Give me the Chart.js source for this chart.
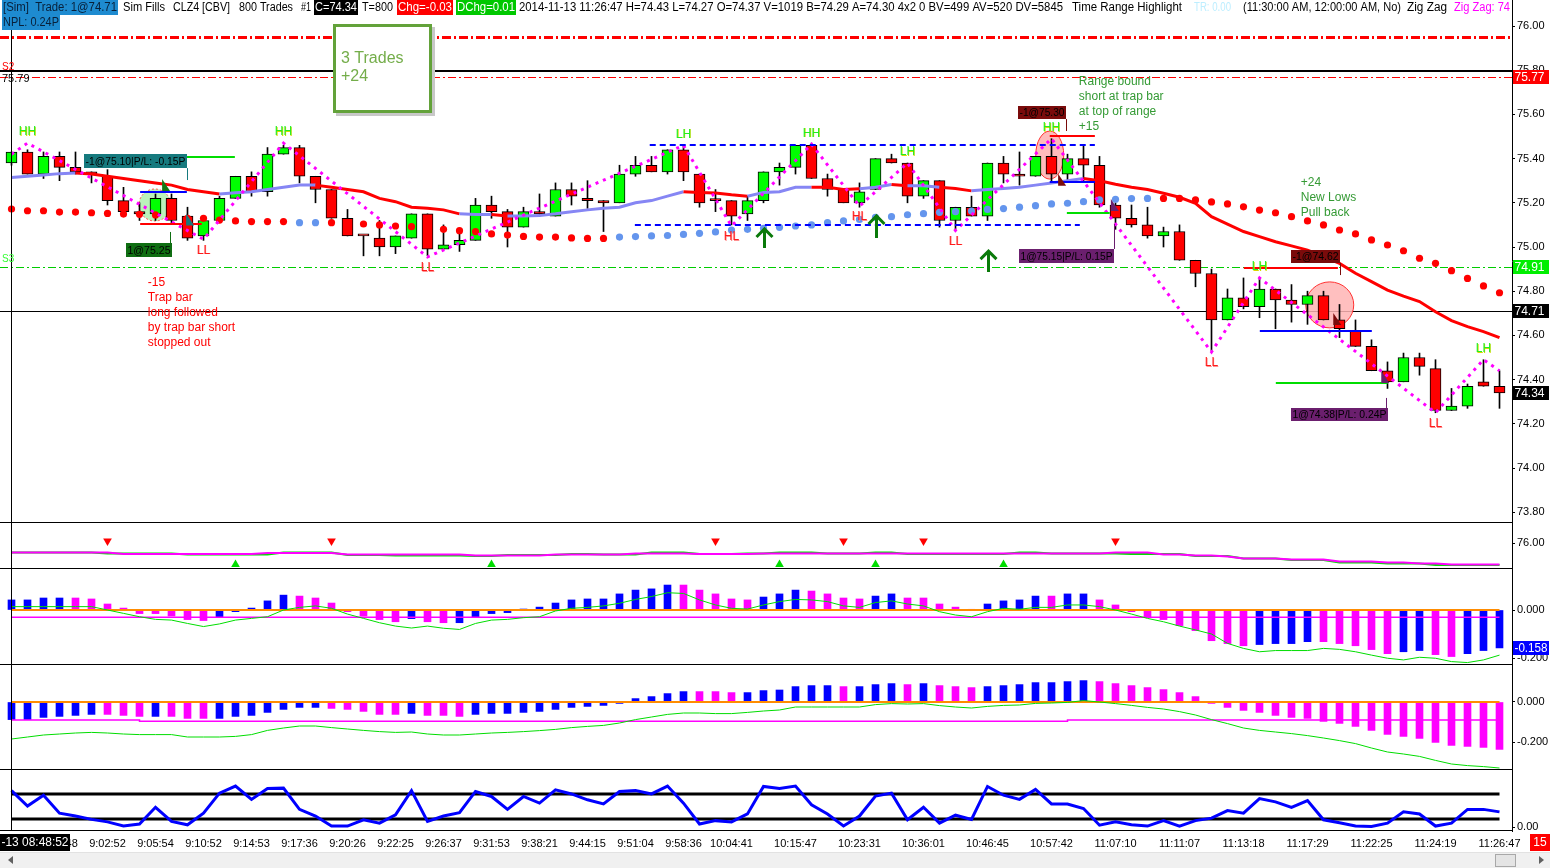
<!DOCTYPE html>
<html><head><meta charset="utf-8"><title>CLZ4 chart</title>
<script src="https://cdn.jsdelivr.net/npm/chart.js@4.4.1/dist/chart.umd.min.js"></script>
<style>
html,body{margin:0;padding:0;background:#fff;overflow:hidden}
body{width:1550px;height:868px;position:relative}
.pane{position:absolute;left:0;width:1550px}
canvas{display:block}
#scroll{position:absolute;left:0;top:852px;width:1550px;height:16px;background:#f0f0f0;border-top:1px solid #e2e2e2;box-sizing:border-box}
#thumb{position:absolute;left:1495px;top:1px;width:21px;height:13px;background:#e4e4e4;border:1px solid #a8a8a8;box-sizing:border-box}
.arr{position:absolute;top:3px;width:0;height:0;border-top:4px solid transparent;border-bottom:4px solid transparent}
</style></head><body>
<div class="pane" style="top:0;height:522px"><canvas id="c0"></canvas></div>
<div class="pane" style="top:522px;height:46px"><canvas id="c1"></canvas></div>
<div class="pane" style="top:568px;height:96px"><canvas id="c2"></canvas></div>
<div class="pane" style="top:664px;height:105px"><canvas id="c3"></canvas></div>
<div class="pane" style="top:769px;height:83px"><canvas id="c4"></canvas></div>
<div id="scroll"><div class="arr" style="left:8px;border-right:5px solid #606060"></div><div id="thumb"></div><div class="arr" style="left:1539px;border-left:5px solid #606060"></div></div>
<script>
// ================= DATA =================
const timeTickBars = [3,6,9,12,15,18,21,24,27,30,33,36,39,42,45,49,53,57,61,65,69,73,77,81,85,89,93];
const timeTickLabels = ['8:59:48','9:02:52','9:05:54','9:10:52','9:14:53','9:17:36','9:20:26','9:22:25','9:26:37','9:31:53','9:38:21','9:44:15','9:51:04','9:58:36','10:04:41','10:15:47','10:23:31','10:36:01','10:46:45','10:57:42','11:07:10','11:11:07','11:13:18','11:17:29','11:22:25','11:24:19','11:26:47'];
const firstBarLabel = '-13 08:48:52';

const openP = [75.38,75.43,75.33,75.41,75.36,75.34,75.32,75.21,75.16,75.15,
 75.22,75.14,75.05,75.12,75.22,75.32,75.25,75.42,75.45,75.32,
 75.26,75.13,75.05,75.04,75.00,75.04,75.15,74.99,75.01,75.03,
 75.19,75.16,75.09,75.16,75.14,75.26,75.22,75.21,75.20,75.33,
 75.37,75.34,75.44,75.33,75.21,75.21,75.15,75.21,75.34,75.36,
 75.46,75.31,75.26,75.20,75.26,75.40,75.38,75.23,75.30,75.12,
 75.18,75.14,75.38,75.33,75.32,75.41,75.33,75.40,75.37,75.19,
 75.13,75.10,75.05,75.07,74.94,74.88,74.67,74.77,74.73,74.81,
 74.76,74.74,74.78,74.67,74.62,74.55,74.44,74.39,74.50,74.45,
 74.26,74.28,74.39,74.37];
const highP = [75.43,75.44,75.43,75.43,75.43,75.34,75.35,75.27,75.20,75.24,
 75.24,75.18,75.14,75.23,75.32,75.34,75.45,75.46,75.46,75.32,
 75.26,75.17,75.05,75.12,75.05,75.15,75.15,75.10,75.08,75.22,
 75.23,75.17,75.18,75.24,75.29,75.29,75.30,75.21,75.37,75.41,
 75.41,75.44,75.46,75.33,75.26,75.21,75.23,75.34,75.38,75.46,
 75.47,75.33,75.26,75.29,75.40,75.42,75.38,75.30,75.30,75.18,
 75.23,75.38,75.41,75.43,75.41,75.49,75.42,75.46,75.41,75.20,
 75.19,75.18,75.09,75.10,74.94,74.90,74.81,74.86,74.86,74.81,
 74.83,74.80,74.80,74.74,74.67,74.58,74.48,74.52,74.52,74.49,
 74.36,74.38,74.49,74.44];
const lowP = [75.37,75.33,75.31,75.30,75.33,75.29,75.19,75.14,75.12,75.12,
 75.11,75.03,75.03,75.12,75.22,75.23,75.23,75.42,75.29,75.20,
 75.13,75.05,74.96,74.96,74.97,75.04,74.96,74.99,74.98,75.03,
 75.13,75.00,75.09,75.14,75.14,75.19,75.175,75.07,75.20,75.32,
 75.34,75.33,75.30,75.18,75.16,75.10,75.12,75.20,75.28,75.33,
 75.31,75.23,75.20,75.18,75.26,75.38,75.20,75.22,75.09,75.08,
 75.14,75.12,75.29,75.28,75.32,75.30,75.30,75.30,75.18,75.08,
 75.09,75.04,75.00,74.94,74.82,74.53,74.67,74.72,74.68,74.63,
 74.66,74.65,74.67,74.59,74.55,74.44,74.36,74.39,74.42,74.25,
 74.26,74.27,74.37,74.27];
const closeP = [75.43,75.33,75.41,75.36,75.34,75.33,75.21,75.16,75.15,75.22,
 75.12,75.04,75.12,75.22,75.32,75.25,75.42,75.45,75.32,75.26,
 75.13,75.05,75.05,75.00,75.05,75.15,74.99,75.01,75.03,75.19,
 75.16,75.09,75.16,75.15,75.26,75.23,75.21,75.20,75.33,75.37,
 75.34,75.44,75.34,75.20,75.21,75.14,75.21,75.34,75.36,75.46,
 75.31,75.26,75.20,75.25,75.40,75.38,75.23,75.30,75.12,75.18,
 75.14,75.38,75.33,75.32,75.41,75.33,75.40,75.37,75.19,75.13,
 75.10,75.05,75.07,74.94,74.88,74.67,74.77,74.73,74.81,74.76,
 74.74,74.78,74.67,74.63,74.55,74.44,74.39,74.50,74.46,74.26,
 74.28,74.37,74.37,74.34];

const maVal = [75.315,75.32,75.326,75.332,75.335,75.33,75.32,75.31,75.30,75.29,
 75.28,75.26,75.25,75.24,75.245,75.25,75.26,75.27,75.28,75.28,
 75.27,75.26,75.25,75.22,75.205,75.18,75.175,75.168,75.15,75.147,
 75.147,75.14,75.14,75.142,75.15,75.16,75.168,75.175,75.18,75.20,
 75.21,75.23,75.25,75.247,75.244,75.236,75.23,75.247,75.25,75.27,
 75.27,75.27,75.26,75.264,75.27,75.283,75.277,75.277,75.27,75.265,
 75.254,75.26,75.265,75.27,75.28,75.29,75.30,75.31,75.30,75.284,
 75.27,75.26,75.243,75.225,75.198,75.137,75.104,75.07,75.047,75.024,
 75.005,74.986,74.956,74.926,74.881,74.843,74.805,74.778,74.753,74.707,
 74.667,74.64,74.617,74.59];
const maTrend = 'bbbbrrrrrr'+'rrrbbbbbbr'+'rrrrrrrrbb'+'rbbbbbbbbb'+'bbrrrrbbbb'+'rrrbbrbbrr'+'bbbbbbbrrr'+'rrrrrrrrrr'+'rrrrrrrrrr'+'rrrr';

const dotVal = [75.172,75.164,75.164,75.158,75.158,75.155,75.152,75.149,75.148,75.145,
 75.14,75.13,75.13,75.122,75.118,75.115,75.115,75.115,75.11,75.11,
 75.11,75.107,75.104,75.10,75.095,75.092,75.086,75.08,75.074,75.07,
 75.059,75.054,75.048,75.045,75.045,75.041,75.039,75.039,75.045,75.047,
 75.05,75.052,75.057,75.062,75.068,75.077,75.08,75.084,75.089,75.095,
 75.10,75.11,75.118,75.125,75.134,75.137,75.146,75.151,75.157,75.16,
 75.163,75.17,75.174,75.18,75.187,75.195,75.198,75.205,75.213,75.216,
 75.219,75.22,75.22,75.22,75.213,75.204,75.195,75.182,75.167,75.155,
 75.137,75.118,75.10,75.077,75.059,75.032,75.009,74.983,74.949,74.926,
 74.893,74.858,74.824,74.793];
const dotTrend = 'rrrrrrrrrr'+'rrrrrrrrbb'+'rrrrrrrrrr'+'rrrrrrrrbb'+'bbbbbbbbbb'+'bbbbbbbbbb'+'bbbbbbbbbb'+'bbrrrrrrrr'+'rrrrrrrrrr'+'rrrr';

const zigBars = [0,1,12,17,26,42,45,50,53,56,59,65,75,78,89,92,93];
const zigVals = [75.42,75.47,75.035,75.47,74.955,75.46,75.095,75.465,75.185,75.38,75.075,75.49,74.525,74.86,74.25,74.49,74.44];
const zigTags = ['','HH','LL','HH','LL','LH','HL','HH','HL','LH','LL','HH','LL','LH','LL','LH',''];

const priceTicks = [76.00,75.80,75.60,75.40,75.20,75.00,74.80,74.60,74.40,74.20,74.00,73.80];
const levelPrices = [75.95,75.797,75.77,74.91,74.71];
const axisTagPrices = [75.77,74.91,74.71,74.34];

// panel 1
const sigMag = [75.952,75.952,75.952,75.952,75.952,75.952,75.952,75.945,75.945,75.945,
 75.945,75.945,75.945,75.945,75.945,75.945,75.950,75.950,75.950,75.950,
 75.950,75.942,75.942,75.942,75.942,75.942,75.942,75.942,75.942,75.938,
 75.938,75.938,75.938,75.938,75.943,75.943,75.943,75.943,75.943,75.948,
 75.948,75.948,75.948,75.945,75.945,75.945,75.945,75.948,75.948,75.948,
 75.948,75.948,75.948,75.948,75.948,75.948,75.948,75.948,75.948,75.948,
 75.948,75.948,75.948,75.948,75.948,75.948,75.948,75.948,75.948,75.952,
 75.952,75.952,75.943,75.943,75.938,75.938,75.932,75.923,75.923,75.923,
 75.918,75.918,75.918,75.908,75.908,75.908,75.903,75.903,75.898,75.898,
 75.893,75.893,75.893,75.893];
const sigGreen = [75.952,75.952,75.952,75.952,75.952,75.952,75.948,75.948,75.947,75.947,
 75.947,75.942,75.942,75.942,75.943,75.943,75.943,75.953,75.953,75.953,
 75.953,75.940,75.940,75.940,75.937,75.937,75.937,75.937,75.937,75.935,
 75.935,75.940,75.940,75.940,75.940,75.945,75.945,75.943,75.943,75.943,
 75.953,75.953,75.953,75.945,75.945,75.945,75.948,75.948,75.953,75.953,
 75.953,75.948,75.948,75.948,75.953,75.953,75.945,75.945,75.945,75.945,
 75.945,75.945,75.945,75.953,75.953,75.948,75.948,75.948,75.948,75.948,
 75.945,75.945,75.945,75.945,75.935,75.935,75.935,75.923,75.923,75.923,
 75.915,75.915,75.915,75.903,75.903,75.903,75.897,75.897,75.897,75.890,
 75.890,75.890,75.890,75.890];
const sellMarkBars = [6,20,44,52,57,69];
const sellMarkLevel = 76.01;
const buyMarkBars = [14,30,48,54,62];
const buyMarkLevel = 75.893;
const sigTicks = [76.00];

// panel 2
const hist1 = [.042,.042,.05,.05,.05,.046,.025,.008,-.015,-.015,
 -.025,-.04,-.044,-.032,-.007,.008,.038,.062,.058,.05,
 .029,-.007,-.025,-.04,-.049,-.036,-.049,-.053,-.053,-.028,
 -.015,-.011,.004,.012,.029,.042,.046,.046,.067,.083,
 .088,.104,.104,.083,.067,.046,.042,.054,.067,.083,
 .079,.067,.05,.046,.058,.067,.05,.05,.025,.012,
 .003,.025,.038,.042,.058,.058,.067,.067,.042,.021,
 -.007,-.028,-.04,-.065,-.086,-.128,-.14,-.149,-.144,-.14,
 -.14,-.132,-.132,-.14,-.149,-.165,-.182,-.174,-.169,-.186,
 -.194,-.182,-.169,-.158];
const hist1Col = 'bbbbmmmmmm'+'mmmbbbbbmm'+'mmmmmbmmbb'+'bbbbbbbbbb'+'bbmmmmmbbb'+'mmmmbbmmmm'+'mbbbbmbbmm'+'mmmmmmmmbb'+'bbmmmmmbbm'+'mbbb';
const sig1 = [.014,.014,.014,.014,.014,.014,0,-.014,-.028,-.039,
 -.042,-.056,-.069,-.058,-.042,-.035,-.028,0,.011,.017,
 .007,-.017,-.035,-.053,-.067,-.075,-.067,-.076,-.081,-.056,
 -.042,-.039,-.032,-.028,-.004,.007,.011,.017,.028,.044,
 .056,.072,.069,.042,.021,.007,.004,.021,.035,.044,
 .042,.035,.017,.011,.031,.038,.025,.017,-.007,-.021,
 -.028,-.007,.007,.003,.011,.011,.021,.021,.014,0,
 -.017,-.035,-.049,-.067,-.083,-.1,-.139,-.16,-.174,-.169,
 -.169,-.169,-.16,-.164,-.174,-.188,-.201,-.208,-.197,-.201,
 -.215,-.219,-.208,-.188];
const ref1Bars = [0,93];
const ref1Vals = [-0.03,-0.03];
const hist1Ticks = [0,-0.2];
const hist1Last = -0.158;

// panel 3
const hist2 = [-.088,-.088,-.077,-.072,-.067,-.062,-.062,-.067,-.072,-.072,
 -.072,-.082,-.082,-.082,-.072,-.067,-.052,-.037,-.027,-.027,
 -.032,-.037,-.047,-.062,-.062,-.057,-.067,-.067,-.072,-.062,
 -.057,-.057,-.052,-.047,-.037,-.027,-.022,-.017,-.007,.017,
 .027,.042,.052,.052,.052,.047,.047,.057,.06,.077,
 .082,.082,.077,.077,.087,.092,.087,.092,.082,.077,
 .072,.077,.082,.087,.097,.097,.102,.107,.102,.092,
 .082,.072,.062,.047,.027,-.007,-.027,-.042,-.052,-.067,
 -.077,-.082,-.097,-.107,-.122,-.142,-.162,-.172,-.182,-.202,
 -.217,-.222,-.227,-.237];
const hist2Col = 'bbbbbbmmmb'+'mmmbbbbbbb'+'mmmmmbmmmb'+'bbbbbbbbbb'+'bbbmmmbbbb'+'bbmbbbmbmm'+'mbbbbbbbmm'+'mmmmmmmmmm'+'mmmmmmmmmm'+'mmmm';
const sig2 = [-.185,-.175,-.165,-.16,-.155,-.152,-.155,-.16,-.163,-.163,
 -.163,-.175,-.175,-.175,-.172,-.163,-.142,-.13,-.12,-.12,
 -.128,-.135,-.142,-.148,-.152,-.15,-.16,-.165,-.165,-.16,
 -.155,-.152,-.148,-.143,-.137,-.128,-.122,-.117,-.105,-.088,
 -.075,-.062,-.055,-.055,-.058,-.058,-.052,-.045,-.04,-.025,
 -.025,-.025,-.025,-.025,-.013,-.008,-.01,-.008,-.018,-.025,
 -.03,-.022,-.017,-.015,-.007,-.005,-.002,.007,0,-.008,
 -.017,-.027,-.035,-.048,-.065,-.088,-.108,-.13,-.142,-.15,
 -.158,-.168,-.18,-.193,-.208,-.23,-.25,-.26,-.272,-.292,
 -.31,-.318,-.323,-.33];
const ref2Bars = [0,7,8,65,66,93];
const ref2Vals = [-0.09,-0.09,-0.096,-0.096,-0.09,-0.09];
const hist2Ticks = [0,-0.2];

// panel 4
const osc = [88,51,77,34,27,19,13,3,8,48,
 14,6,34,82,99,67,93,94,43,27,
 3,3,18,10,30,88,14,27,35,86,
 74,43,74,58,90,80,66,56,86,88,
 80,99,58,8,16,13,32,98,93,99,
 54,32,3,27,75,82,18,48,10,29,
 19,98,77,67,91,56,56,45,5,13,
 6,3,16,3,16,22,40,34,69,61,
 48,64,18,11,3,2,10,37,32,3,
 10,43,43,37];
const oscBands = [80,20];
const oscTicks = [0];

// ================= RENDER =================
const FONT = '"Liberation Sans", Arial, sans-serif';
Chart.defaults.font.family = FONT;
Chart.defaults.font.size = 11;
Chart.defaults.color = '#000';
const N = openP.length;
const X_MIN = -0.71875, X_MAX = 93.78125;
const BLUE='#0000ff', MAG='#ff00ff', GRN='#00dd00';

function xScale(show){
  return { type:'linear', min:X_MIN, max:X_MAX, offset:false, display:show,
    grid:{display:false, drawTicks:false, tickLength:0}, border:{display:false},
    afterFit(s){ if(show){ s.height = 21; } s.paddingLeft = 0; s.paddingRight = 0; },
    afterBuildTicks(s){ s.ticks = timeTickBars.map(v=>({value:v})); },
    ticks:{ autoSkip:false, maxRotation:0, minRotation:0, padding:6, font:{size:11}, color:'#000',
      callback:(v)=>{ const k = timeTickBars.indexOf(v); return k<0 ? '' : timeTickLabels[k]; } } };
}
function yScale(min,max,ticks,dec){
  return { type:'linear', position:'right', min, max,
    afterFit(s){ s.width = 38; s.paddingTop = 0; s.paddingBottom = 0; },
    afterBuildTicks(s){ s.ticks = ticks.map(v=>({value:v})); },
    ticks:{ autoSkip:false, padding:2, font:{size:11}, color:'#000', callback:v=>Number(v).toFixed(dec) },
    grid:{ display:true, drawOnChartArea:false, drawTicks:true, tickLength:3, color:'#000' },
    border:{ display:true, color:'#000', width:1 } };
}
function opts(showX, y){
  return { responsive:true, maintainAspectRatio:false, animation:false, events:[],
    layout:{padding:0, autoPadding:false}, plugins:{legend:{display:false}, tooltip:{enabled:false}},
    scales:{ x:xScale(showX), y } };
}
function frame(top, bottom){
  return { id:'frame', afterDraw(c){
    const {ctx, chartArea:a} = c; const vx = Math.round(c.scales.x.getPixelForValue(0)) - 0.5;
    ctx.save(); ctx.strokeStyle='#000'; ctx.lineWidth=1; ctx.beginPath();
    if(top){ ctx.moveTo(0,a.top+0.5); ctx.lineTo(a.right,a.top+0.5); }
    if(bottom){ ctx.moveTo(0,a.bottom-0.5); ctx.lineTo(a.right,a.bottom-0.5); }
    ctx.moveTo(vx,a.top); ctx.lineTo(vx,a.bottom); ctx.stroke(); ctx.restore(); } };
}
function tagBox(ctx, s, x0, y0, x1, y1, bg, fg, font){
  ctx.fillStyle = bg; ctx.fillRect(x0, y0, x1-x0, y1-y0);
  ctx.fillStyle = fg; ctx.font = font || ('11px '+FONT); ctx.textAlign='left'; ctx.textBaseline='middle';
  ctx.fillText(s, x0+1.5, (y0+y1)/2+0.5, x1-x0-3);
}
function axisTag(c, v, bg, fg, label){
  const y = Math.round(c.scales.y.getPixelForValue(v));
  tagBox(c.ctx, label, 1513, y-7, 1549, y+7, bg, fg, '12px '+FONT);
}
const pts = arr => arr.map((v,i)=>({x:i, y:v}));
const col = (flags, b, m) => flags.split('').map(f => f==='b' ? b : m);

// ---------- main pane overlay ----------
const levelStyles = [
  {c:'#ff0000', w:3, d:[9,3,2,3]}, {c:'#000000', w:2, d:[]}, {c:'#ff0000', w:1, d:[8,3,2,3]},
  {c:'#00cc00', w:1, d:[8,3,2,3]}, {c:'#000000', w:1, d:[]}];
const tradeTags = [
  {t:'-1@75.10|P/L: -0.15P', i0:4.5, i1:10.97, p0:75.421, p1:75.357, bg:'#167a7e'},
  {t:'1@75.25', i0:7.14, i1:10.02, p0:75.018, p1:74.955, bg:'#0f6e12'},
  {t:'-1@75.30', i0:62.89, i1:65.89, p0:75.638, p1:75.579, bg:'#7a0b0b'},
  {t:'1@75.15|P/L: 0.15P', i0:62.96, i1:68.89, p0:74.991, p1:74.928, bg:'#6b1f6e'},
  {t:'-1@74.62', i0:79.96, i1:83.02, p0:74.986, p1:74.928, bg:'#7a0b0b'},
  {t:'1@74.38|P/L: 0.24P', i0:79.96, i1:86.02, p0:74.271, p1:74.213, bg:'#6b1f6e'}];
const connectors = [
  {i:10.97,p0:75.357,p1:75.303,c:'#167a7e'}, {i:9.9,p0:75.068,p1:75.018,c:'#0f6e12'},
  {i:65.89,p0:75.579,p1:75.525,c:'#7a0b0b'}, {i:68.89,p0:75.104,p1:74.991,c:'#6b1f6e'},
  {i:83.02,p0:74.928,p1:74.873,c:'#7a0b0b'}, {i:85.9,p0:74.317,p1:74.271,c:'#6b1f6e'}];
const tradeLines = [
  {i0:8.04,i1:13.96,p:75.407,c:GRN}, {i0:8.04,i1:10.96,p:75.249,c:BLUE}, {i0:8.04,i1:11.89,p:75.104,c:'#ff0000'},
  {i0:64.89,i1:67.71,p:75.502,c:'#ff0000'}, {i0:64.89,i1:67.71,p:75.294,c:BLUE}, {i0:65.96,i1:68.64,p:75.154,c:GRN},
  {i0:77.02,i1:82.9,p:74.905,c:'#ff0000'}, {i0:78.02,i1:85.02,p:74.62,c:BLUE}, {i0:79.02,i1:86.02,p:74.385,c:GRN}];
const rangeLines = [{i0:39.89,i1:67.71,p:75.462},{i0:38.96,i1:66.77,p:75.10}];
const arrows = [{i:47,p0:74.995,p1:75.086},{i:54,p0:75.041,p1:75.145},{i:61,p0:74.887,p1:74.986}];
const markers = [
  {i:9.6,p:75.276,c:'#157a15'}, {i:11.1,p:75.12,c:'#167a7e'}, {i:65.6,p:75.30,c:'#7a0b0b'},
  {i:68.9,p:75.186,c:'#6b1f6e'}, {i:82.8,p:74.67,c:'#7a0b0b'}, {i:85.8,p:74.407,c:'#6b1f6e'}];
const notes = [
  {i:8.52, p:74.837, lines:['-15','Trap bar','long followed','by trap bar short','stopped out'], c:'#ff0000'},
  {i:66.71, p:75.747, lines:['Range bound','short at trap bar','at top of range','+15'], c:'#349a34'},
  {i:80.58, p:75.29, lines:['+24','New Lows','Pull back'], c:'#349a34'}];
const header = [
  {x:2,x2:118,box:1,t:'[Sim]  Trade: 1@74.71',bg:'#1e8bd0',fg:'#08203a'},
  {x:2,x2:60,box:2,t:'NPL: 0.24P',bg:'#1e8bd0',fg:'#08203a'},
  {x:122,x2:166,t:'Sim Fills'}, {x:172,x2:231,t:'CLZ4 [CBV]'}, {x:238,x2:294,t:'800 Trades'}, {x:300,x2:312,t:'#1'},
  {x:314,x2:358,box:1,t:'C=74.34',bg:'#000',fg:'#fff'}, {x:361,x2:394,t:'T=800'},
  {x:397,x2:453,box:1,t:'Chg=-0.03',bg:'#ff0000',fg:'#fff'},
  {x:456,x2:516,box:1,t:'DChg=0.01',bg:'#00c800',fg:'#fff'},
  {x:518,x2:1064,t:'2014-11-13 11:26:47 H=74.43 L=74.27 O=74.37 V=1019 B=74.29 A=74.30 4x2 0 BV=499 AV=520 DV=5845'},
  {x:1071,x2:1183,t:'Time Range Highlight'}, {x:1193,x2:1232,t:'TR: 0.00',fg:'#bdeeff'},
  {x:1242,x2:1402,t:'(11:30:00 AM, 12:00:00 AM, No)'}, {x:1406,x2:1448,t:'Zig Zag'},
  {x:1453,x2:1511,t:'Zig Zag: 74',fg:'#ff00ff'}];

const mainOverlay = {
  id:'mainOverlay',
  beforeDatasetsDraw(c){
    const {ctx, chartArea:a} = c; const X=v=>c.scales.x.getPixelForValue(v), Y=v=>c.scales.y.getPixelForValue(v);
    ctx.save();
    levelPrices.forEach((p,k)=>{ const s=levelStyles[k]; ctx.strokeStyle=s.c; ctx.lineWidth=s.w; ctx.setLineDash(s.d);
      const y=Math.round(Y(p))+(s.w%2?0.5:0); ctx.beginPath(); ctx.moveTo(a.left,y); ctx.lineTo(a.right,y); ctx.stroke(); });
    ctx.setLineDash([]);
    const ell=(i,p,rx,ry,fill,stroke,dash)=>{ ctx.beginPath(); ctx.ellipse(X(i),Y(p),rx,ry,0,0,Math.PI*2); ctx.fillStyle=fill; ctx.fill();
      ctx.setLineDash(dash||[]); ctx.strokeStyle=stroke; ctx.lineWidth=1; ctx.stroke(); ctx.setLineDash([]); };
    ell(8.96,75.19,16,16,'rgba(175,240,175,0.85)','#ff5050',[2,2]);
    ell(64.89,75.416,14,24,'rgba(255,175,175,0.85)','#ff3030');
    ell(82.39,74.738,24,23,'rgba(255,180,180,0.85)','#ff3030');
    ctx.restore();
  },
  afterDatasetsDraw(c){
    const {ctx} = c; const X=v=>c.scales.x.getPixelForValue(v), Y=v=>c.scales.y.getPixelForValue(v);
    ctx.save();
    ctx.setLineDash([6,4]); ctx.strokeStyle=BLUE; ctx.lineWidth=2;
    rangeLines.forEach(r=>{ const y=Math.round(Y(r.p)); ctx.beginPath(); ctx.moveTo(X(r.i0),y); ctx.lineTo(X(r.i1),y); ctx.stroke(); });
    ctx.setLineDash([]);
    tradeLines.forEach(r=>{ ctx.strokeStyle=r.c; ctx.lineWidth=2; const y=Math.round(Y(r.p)); ctx.beginPath(); ctx.moveTo(X(r.i0),y); ctx.lineTo(X(r.i1),y); ctx.stroke(); });
    connectors.forEach(r=>{ ctx.strokeStyle=r.c; ctx.lineWidth=1; const x=Math.round(X(r.i))+0.5; ctx.beginPath(); ctx.moveTo(x,Y(r.p0)); ctx.lineTo(x,Y(r.p1)); ctx.stroke(); });
    markers.forEach(m=>{ const x=X(m.i), y=Y(m.p); ctx.fillStyle=m.c; ctx.beginPath(); ctx.moveTo(x-3,y-7); ctx.lineTo(x+5,y+5); ctx.lineTo(x-3,y+5); ctx.closePath(); ctx.fill(); });
    tradeTags.forEach(t=>{ tagBox(ctx, t.t, Math.round(X(t.i0)), Math.round(Y(t.p0)), Math.round(X(t.i1)), Math.round(Y(t.p1)), t.bg, '#000', '11px '+FONT); });
    arrows.forEach(r=>{ const x=Math.round(X(r.i))+0.5, yb=Y(r.p0), yt=Y(r.p1); ctx.strokeStyle='#0a7a0a'; ctx.lineWidth=3;
      ctx.beginPath(); ctx.moveTo(x,yb); ctx.lineTo(x,yt+1); ctx.moveTo(x-8,yt+9); ctx.lineTo(x,yt+1); ctx.lineTo(x+8,yt+9); ctx.stroke(); });
    ctx.font='12px '+FONT; ctx.textAlign='left'; ctx.textBaseline='middle';
    notes.forEach(n=>{ ctx.fillStyle=n.c; n.lines.forEach((l,k)=>ctx.fillText(l, X(n.i), Y(n.p)+k*15)); });
    ctx.font='12px '+FONT; ctx.textAlign='center';
    zigTags.forEach((t,k)=>{ if(!t) return; const up = t[1]==='H'; const x=X(zigBars[k]), y=Y(zigVals[k])+(up?-11:11);
      ctx.fillStyle = up ? '#d8d800' : '#ff9090'; ctx.fillText(t, x+0.6, y+0.6);
      ctx.fillStyle = up ? '#22ee22' : '#ff1a1a'; ctx.fillText(t, x, y); });
    const bx0=Math.round(X(20.08)), by0=Math.round(Y(76.009)), bx1=Math.round(X(26.27)), by1=Math.round(Y(75.606));
    ctx.fillStyle='#c8c8c8'; ctx.fillRect(bx0+3,by0+3,bx1-bx0,by1-by0);
    ctx.fillStyle='#fff'; ctx.fillRect(bx0,by0,bx1-bx0,by1-by0);
    ctx.strokeStyle='#63a23a'; ctx.lineWidth=3; ctx.strokeRect(bx0+1.5,by0+1.5,bx1-bx0-3,by1-by0-3);
    ctx.fillStyle='#74ad4a'; ctx.font='16px '+FONT; ctx.textAlign='left'; ctx.textBaseline='middle';
    ctx.fillText('3 Trades', bx0+8, by0+35); ctx.fillText('+24', bx0+8, by0+53);
    ctx.restore();
  },
  afterDraw(c){
    const {ctx} = c; const Y=v=>c.scales.y.getPixelForValue(v);
    ctx.save();
    header.forEach(h=>{
      const y0 = h.box===2 ? 15 : 0;
      if(h.box){ ctx.fillStyle=h.bg; ctx.fillRect(h.x, y0, h.x2-h.x, 15); }
      ctx.fillStyle = h.fg || '#000'; ctx.font='12px '+FONT; ctx.textAlign='left'; ctx.textBaseline='middle';
      ctx.fillText(h.t, h.x+1, y0+8, h.x2-h.x-2);
    });
    ctx.font='10px '+FONT; ctx.textBaseline='middle'; ctx.textAlign='left';
    ctx.fillStyle='#ff0000'; ctx.fillText('S2', 2, Y(75.815));
    ctx.fillStyle='#000'; ctx.font='11px '+FONT; ctx.fillText('75.79', 2, Y(75.76));
    ctx.fillStyle='#33ff33'; ctx.font='10px '+FONT; ctx.fillText('S3', 2, Y(74.946));
    axisTag(c, axisTagPrices[0], '#ff0000', '#fff', axisTagPrices[0].toFixed(2));
    axisTag(c, axisTagPrices[1], '#00ee00', '#fff', axisTagPrices[1].toFixed(2));
    axisTag(c, axisTagPrices[2], '#000', '#fff', axisTagPrices[2].toFixed(2));
    axisTag(c, axisTagPrices[3], '#000', '#fff', axisTagPrices[3].toFixed(2));
    ctx.restore();
  }
};

// ---------- main price pane ----------
new Chart(document.getElementById('c0'), {
  type:'bar',
  data:{ datasets:[
    {type:'line', data: zigBars.map((b,k)=>({x:b, y:zigVals[k]})), borderColor:MAG, borderWidth:3, borderDash:[3,5], pointRadius:0, tension:0, order:1},
    {type:'line', data: pts(dotVal), showLine:false, pointRadius:3.6, pointBorderWidth:0, pointBackgroundColor: col(dotTrend,'#6495ed','#ff0000'), order:2},
    {type:'line', data: pts(maVal), borderWidth:3, pointRadius:0, tension:0, borderColor:'#ff0000',
      segment:{ borderColor: s => maTrend[s.p0DataIndex]==='b' ? '#8686f4' : '#ff0000' }, order:3},
    {type:'bar', data: openP.map((o,i)=>({x:i, y:[o, closeP[i]]})), barThickness:11, grouped:false,
      backgroundColor: openP.map((o,i)=> closeP[i]>o ? '#00ff00' : '#ff0000'), borderColor:'#000', borderWidth:1, borderSkipped:false, minBarLength:2, order:4},
    {type:'bar', data: lowP.map((l,i)=>({x:i, y:[l, highP[i]]})), barThickness:1, grouped:false, backgroundColor:'#000', order:5}
  ]},
  options: opts(false, yScale(73.75566, 76.11765, priceTicks, 2)),
  plugins:[frame(false,false), mainOverlay]
});

// ---------- panel 1 ----------
new Chart(document.getElementById('c1'), {
  type:'line',
  data:{ datasets:[
    {data: sellMarkBars.map(b=>({x:b, y:sellMarkLevel})), showLine:false, pointStyle:'triangle', rotation:180, pointRadius:5, pointBorderWidth:0, pointBackgroundColor:'#ff0000', order:1},
    {data: buyMarkBars.map(b=>({x:b, y:buyMarkLevel})), showLine:false, pointStyle:'triangle', pointRadius:5, pointBorderWidth:0, pointBackgroundColor:'#00dd00', order:1},
    {data: pts(sigMag), borderColor:MAG, borderWidth:2, pointRadius:0, tension:0, order:2},
    {data: pts(sigGreen), borderColor:GRN, borderWidth:2, pointRadius:0, tension:0, order:3}
  ]},
  options: opts(false, yScale(75.875, 76.105, sigTicks, 2)),
  plugins:[frame(true,false)]
});

// ---------- panel 2 ----------
new Chart(document.getElementById('c2'), {
  type:'bar',
  data:{ datasets:[
    {type:'line', data: pts(sig1), borderColor:GRN, borderWidth:1, pointRadius:0, tension:0, order:1},
    {type:'line', data: ref1Bars.map((b,k)=>({x:b, y:ref1Vals[k]})), borderColor:MAG, borderWidth:1.5, pointRadius:0, order:2},
    {type:'line', data: [{x:0,y:0},{x:N-1,y:0}], borderColor:'#ff8c00', borderWidth:2, pointRadius:0, order:3},
    {type:'bar', data: pts(hist1), backgroundColor: col(hist1Col, BLUE, MAG), barThickness:7, grouped:false, order:4}
  ]},
  options: opts(false, yScale(-0.225, 0.175, hist1Ticks, 3)),
  plugins:[frame(true,false), {id:'lastTag', afterDraw(c){ c.ctx.save(); axisTag(c, hist1Last, BLUE, '#fff', hist1Last.toFixed(3)); c.ctx.restore(); }}]
});

// ---------- panel 3 ----------
new Chart(document.getElementById('c3'), {
  type:'bar',
  data:{ datasets:[
    {type:'line', data: pts(sig2), borderColor:GRN, borderWidth:1, pointRadius:0, tension:0, order:1},
    {type:'line', data: ref2Bars.map((b,k)=>({x:b, y:ref2Vals[k]})), borderColor:MAG, borderWidth:1.5, pointRadius:0, stepped:true, order:2},
    {type:'line', data: [{x:0,y:0},{x:N-1,y:0}], borderColor:'#ff8c00', borderWidth:2, pointRadius:0, order:3},
    {type:'bar', data: pts(hist2), backgroundColor: col(hist2Col, BLUE, MAG), barThickness:7, grouped:false, order:4}
  ]},
  options: opts(false, yScale(-0.335, 0.19, hist2Ticks, 3)),
  plugins:[frame(true,false)]
});

// ---------- panel 4 + time axis ----------
new Chart(document.getElementById('c4'), {
  type:'line',
  data:{ datasets:[
    {data: pts(osc), borderColor:BLUE, borderWidth:3, pointRadius:0, tension:0, order:1},
    {data: [{x:0,y:oscBands[0]},{x:N-1,y:oscBands[0]}], borderColor:'#000', borderWidth:3, pointRadius:0, order:2},
    {data: [{x:0,y:oscBands[1]},{x:N-1,y:oscBands[1]}], borderColor:'#000', borderWidth:3, pointRadius:0, order:2}
  ]},
  options: opts(true, yScale(-8.88, 139.9, oscTicks, 2)),
  plugins:[frame(true,true), {id:'timeBoxes', afterDraw(c){
    const {ctx, chartArea:a} = c; ctx.save();
    tagBox(ctx, firstBarLabel, 0, a.bottom+3, 70, a.bottom+20, '#000', '#fff', '12px '+FONT);
    ctx.fillStyle='#ff0000'; ctx.fillRect(1530, a.bottom+3, 20, 17);
    ctx.fillStyle='#fff'; ctx.font='12px '+FONT; ctx.textAlign='center'; ctx.textBaseline='middle';
    ctx.fillText('15', 1540, a.bottom+12);
    ctx.restore(); }}]
});
</script>
</body></html>
